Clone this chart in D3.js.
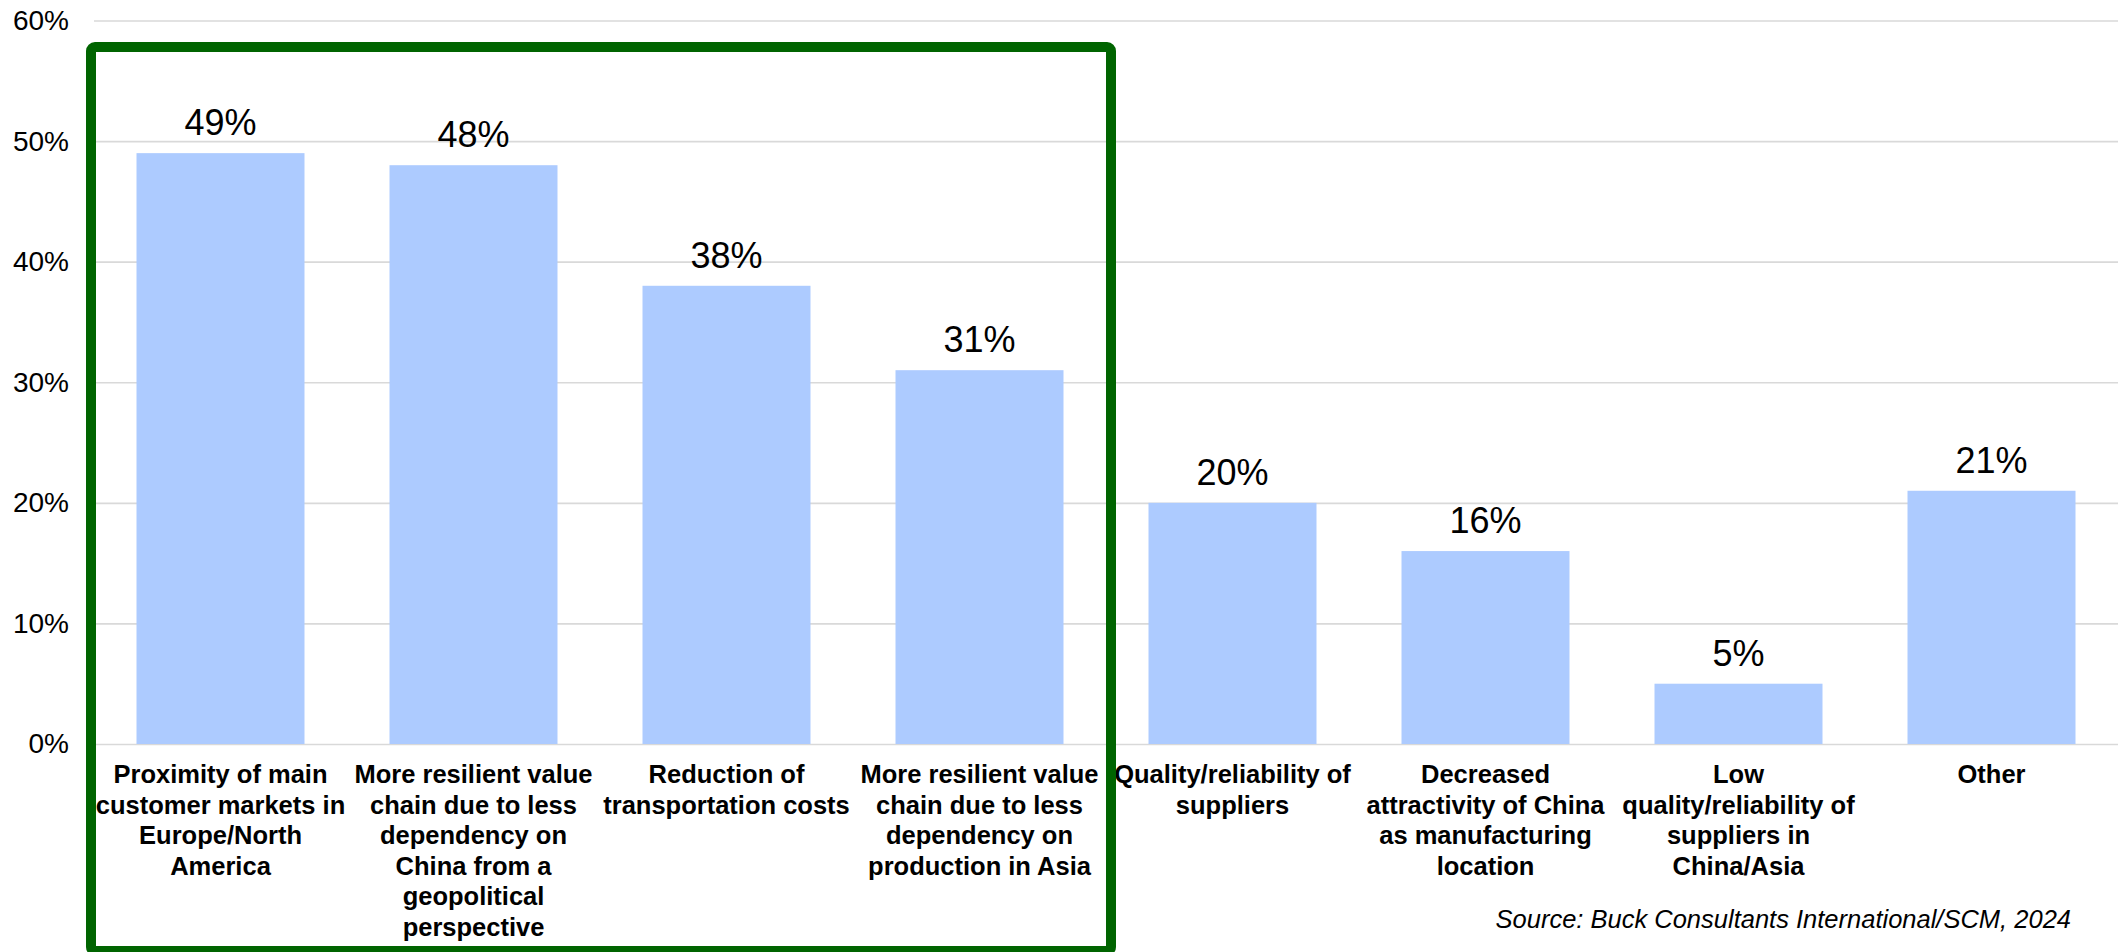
<!DOCTYPE html>
<html>
<head>
<meta charset="utf-8">
<script src="https://cdn.jsdelivr.net/npm/d3@7"></script>
<style>
  html, body { margin: 0; padding: 0; background: #fff; }
  svg { display: block; }
</style>
</head>
<body>
<svg id="chart" width="2118" height="952"></svg>
<script>
// Reasons for reshoring / nearshoring (share of respondents)
const categories = [
  "Proximity of main\ncustomer markets in\nEurope/North\nAmerica",
  "More resilient value\nchain due to less\ndependency on\nChina from a\ngeopolitical\nperspective",
  "Reduction of\ntransportation costs",
  "More resilient value\nchain due to less\ndependency on\nproduction in Asia",
  "Quality/reliability of\nsuppliers",
  "Decreased\nattractivity of China\nas manufacturing\nlocation",
  "Low\nquality/reliability of\nsuppliers in\nChina/Asia",
  "Other"
];
const values = [49, 48, 38, 31, 20, 16, 5, 21];
const yTicks = [0, 10, 20, 30, 40, 50, 60];
const sourceNote = "Source: Buck Consultants International/SCM, 2024";

const svg = d3.select("#chart");
const W = 2118, H = 952;
const margin = { top: 20.5, right: 0, bottom: 208, left: 94 };
const font = "'Liberation Sans', Arial, sans-serif";

const x = d3.scaleBand()
  .domain(categories)
  .range([margin.left, W - margin.right])
  .paddingInner(0.336)
  .paddingOuter(0.168);

const y = d3.scaleLinear()
  .domain([0, 60])
  .range([H - margin.bottom, margin.top]);

// Gridlines and percent labels
const yAxis = d3.axisLeft(y)
  .tickValues(yTicks)
  .tickFormat(d => d + "%")
  .tickSize(-(W - margin.left - margin.right))
  .tickPadding(25);

const gy = svg.append("g")
  .attr("transform", `translate(${margin.left},0)`)
  .call(yAxis);
gy.select(".domain").remove();
gy.selectAll(".tick line").attr("stroke", "#d9d9d9").attr("stroke-width", 1.6);
gy.selectAll(".tick text")
  .attr("fill", "#000")
  .style("font-family", font)
  .style("font-size", "28px");

// Bars
svg.append("g").selectAll("rect")
  .data(values)
  .join("rect")
  .attr("x", (d, i) => x(categories[i]))
  .attr("y", d => y(d))
  .attr("width", x.bandwidth())
  .attr("height", d => y(0) - y(d))
  .attr("fill", "#adcbff");

// Value labels
svg.append("g").selectAll("text")
  .data(values)
  .join("text")
  .attr("x", (d, i) => x(categories[i]) + x.bandwidth() / 2)
  .attr("y", d => y(d) - 18)
  .attr("text-anchor", "middle")
  .style("font-family", font)
  .style("font-size", "36px")
  .attr("fill", "#000")
  .text(d => d + "%");

// Category labels (multi-line, bold)
const xAxis = d3.axisBottom(x).tickSize(0).tickFormat("");
const gx = svg.append("g")
  .attr("transform", `translate(0,${y(0)})`)
  .call(xAxis);
gx.select(".domain").remove();
gx.selectAll(".tick").each(function(d) {
  const t = d3.select(this).append("text")
    .attr("text-anchor", "middle")
    .attr("fill", "#000")
    .style("font-family", font)
    .style("font-size", "25.5px")
    .style("font-weight", "bold");
  d.split("\n").forEach((line, i) => {
    t.append("tspan")
      .attr("x", 0)
      .attr("y", 39 + i * 30.6)
      .text(line);
  });
});

// Outline around the four leading reasons
svg.append("rect")
  .attr("x", 91)
  .attr("y", 47)
  .attr("width", 1111 - 91)
  .attr("height", 951 - 47)
  .attr("rx", 4)
  .attr("fill", "none")
  .attr("stroke", "#006400")
  .attr("stroke-width", 10);

// Source note
svg.append("text")
  .attr("x", 2071)
  .attr("y", 928)
  .attr("text-anchor", "end")
  .style("font-family", font)
  .style("font-size", "25.5px")
  .style("font-style", "italic")
  .attr("fill", "#000")
  .text(sourceNote);
</script>
</body>
</html>
